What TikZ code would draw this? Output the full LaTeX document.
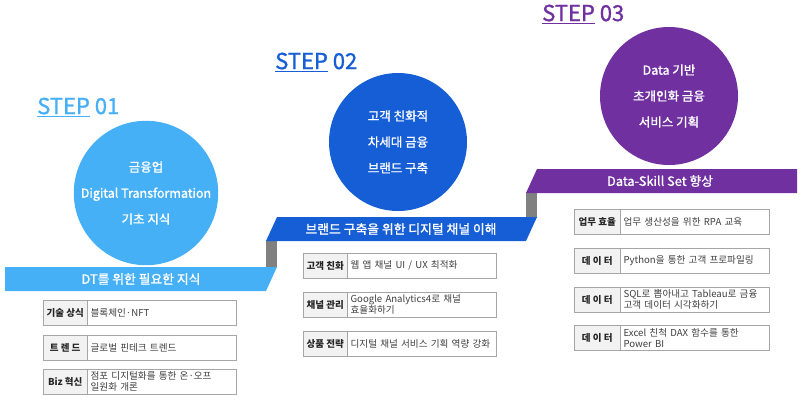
\documentclass[tikz,border=0pt]{standalone}
\usepackage{fontspec}
\setmainfont{Noto Sans CJK KR}
\newfontfamily\medfont{Noto Sans CJK KR}[FakeBold=1.2]
\usetikzlibrary{positioning}
\definecolor{StepSky}{RGB}{69,176,245}
\definecolor{StepBlue}{RGB}{22,94,214}
\definecolor{StepPurple}{RGB}{112,48,160}
\definecolor{BarGray}{RGB}{128,128,128}
\definecolor{CellGray}{RGB}{242,242,242}
\definecolor{CellLine}{RGB}{166,166,166}
\definecolor{TextDark}{RGB}{38,38,38}
\definecolor{TextMid}{RGB}{64,64,64}

\begin{document}
\begin{tikzpicture}[
  x=1pt, y=-1pt,
  stepnum/.style={
    anchor=west, inner sep=0pt,
    font=\medfont\fontsize{22}{22}\selectfont
  },
  bubble/.style={
    circle, minimum size=138pt, inner sep=0pt,
    text=white, align=center,
    font=\medfont\fontsize{12.5}{26}\selectfont
  },
  bannertext/.style={
    text=white, inner sep=0pt,
    font=\medfont\fontsize{12.8}{14}\selectfont
  },
  keybox/.style={
    rectangle, draw=CellLine, fill=CellGray, text=TextDark,
    minimum width=44pt, minimum height=25pt, inner sep=1pt,
    align=center, font=\bfseries\fontsize{9.5}{11}\selectfont,
    anchor=north west
  },
  descbox/.style={
    rectangle, draw=CellLine, fill=white, text=TextMid,
    text width=143pt, minimum height=25pt,
    inner xsep=3pt, inner ysep=1pt,
    align=left, font=\fontsize{9.6}{11.2}\selectfont
  },
  riser/.style={fill=BarGray}
]
\useasboundingbox (0,0) rectangle (802,400);

%% Risers between the steps
\fill[riser] (266,241) rectangle (277,267);
\fill[riser] (526,193) rectangle (537,218);

%% Step 01
\node[stepnum, text=StepSky] (s1) at (37,107) {\underline{STEP} 01};
\node[bubble, fill=StepSky] (c1) at (146,193) {금융업\\Digital Transformation\\기초 지식};
\fill[StepSky] (5,267) -- (277,267) -- (266,291) -- (5,291) -- cycle;
\node[bannertext] (b1) at (141,279) {DT를 위한 필요한 지식};

%% Step 02
\node[stepnum, text=StepBlue] (s2) at (275,62) {\underline{STEP} 02};
\node[bubble, fill=StepBlue] (c2) at (398,142) {고객 친화적\\차세대 금융\\브랜드 구축};
\fill[StepBlue] (277,217) -- (537,217) -- (526,241) -- (266,241) -- cycle;
\node[bannertext] (b2) at (401,229) {브랜드 구축을 위한 디지털 채널 이해};

%% Step 03
\node[stepnum, text=StepPurple] (s3) at (542,14) {\underline{STEP} 03};
\node[bubble, fill=StepPurple] (c3) at (669,96) {Data 기반\\초개인화 금융\\서비스 기획};
\fill[StepPurple] (537,169) -- (797,169) -- (797,193) -- (526,193) -- cycle;
\node[bannertext] (b3) at (660,181) {Data-Skill Set 향상};

%% Table under step 01
\node[keybox] (k11) at (43,300) {기술 상식};
\node[descbox, right=0pt of k11] (d11) {블록체인·NFT};
\node[keybox] (k12) at (43,335) {트 렌 드};
\node[descbox, right=0pt of k12] (d12) {글로벌 핀테크 트렌드};
\node[keybox] (k13) at (43,369) {Biz 혁신};
\node[descbox, right=0pt of k13] (d13) {점포 디지털화를 통한 온·오프\\일원화 개론};

%% Table under step 02
\node[keybox] (k21) at (303,253) {고객 친화};
\node[descbox, right=0pt of k21] (d21) {웹 앱 채널 UI / UX 최적화};
\node[keybox] (k22) at (303,292) {채널 관리};
\node[descbox, right=0pt of k22] (d22) {Google Analytics4로 채널\\효율화하기};
\node[keybox] (k23) at (303,331) {상품 전략};
\node[descbox, right=0pt of k23] (d23) {디지털 채널 서비스 기획 역량 강화};

%% Table under step 03
\node[keybox, minimum width=46pt] (k31) at (574,209) {업무 효율};
\node[descbox, right=0pt of k31] (d31) {업무 생산성을 위한 RPA 교육};
\node[keybox, minimum width=46pt] (k32) at (574,248) {데 이 터};
\node[descbox, right=0pt of k32] (d32) {Python을 통한 고객 프로파일링};
\node[keybox, minimum width=46pt] (k33) at (574,287) {데 이 터};
\node[descbox, right=0pt of k33] (d33) {SQL로 뽑아내고 Tableau로 금융\\고객 데이터 시각화하기};
\node[keybox, minimum width=46pt] (k34) at (574,325) {데 이 터};
\node[descbox, right=0pt of k34] (d34) {Excel 친척 DAX 함수를 통한\\Power BI};

\end{tikzpicture}
\end{document}
